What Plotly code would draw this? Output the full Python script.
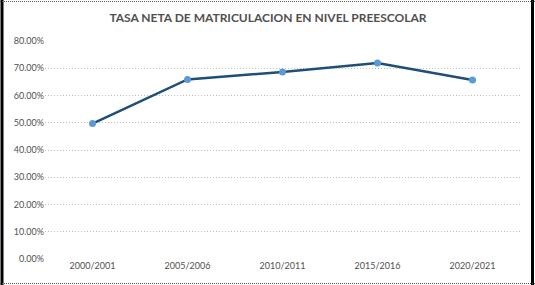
import plotly.graph_objects as go

periods = ["2000/2001", "2005/2006", "2010/2011", "2015/2016", "2020/2021"]
rates = [0.497, 0.659, 0.686, 0.719, 0.657]
title_text = "TASA NETA DE MATRICULACION EN NIVEL PREESCOLAR"

fig = go.Figure()
fig.add_trace(go.Scatter(
    x=periods, y=rates, mode="lines+markers",
    line=dict(color="#1F4E79", width=2.5),
    marker=dict(color="#5B9BD5", size=7),
    hoverinfo="x+y",
))

W, H = 535, 285
L, R, T, B = 45, 15, 41, 26
pw, ph = W - L - R, H - T - B

def px(x):
    return (x - L) / pw

def py(y):
    return (H - B - y) / ph

shapes = [
    dict(type="line", xref="paper", yref="paper", x0=px(2), x1=px(2), y0=py(0), y1=py(H), line=dict(color="black", width=3)),
    dict(type="line", xref="paper", yref="paper", x0=px(532.5), x1=px(532.5), y0=py(0), y1=py(H), line=dict(color="black", width=3)),
    dict(type="line", xref="paper", yref="paper", x0=px(0), x1=px(W), y0=py(1.5), y1=py(1.5), line=dict(color="#555555", width=1, dash="1px,1px")),
    dict(type="line", xref="paper", yref="paper", x0=px(0), x1=px(W), y0=py(283.5), y1=py(283.5), line=dict(color="#555555", width=1, dash="1px,1px")),
]

fig.update_layout(
    width=W, height=H,
    margin=dict(l=L, r=R, t=T, b=B, autoexpand=False),
    paper_bgcolor="white", plot_bgcolor="white",
    showlegend=False,
    title=dict(text="<b>" + title_text + "</b>", x=(268 - L) / pw, xref="paper", xanchor="center",
               y=1 - 18 / H, yanchor="middle", automargin=False,
               font=dict(family="Lato", size=12, color="#505050")),
    font=dict(family="Lato", size=9, color="#505050"),
    xaxis=dict(range=[-0.5, 4.5], showgrid=False, showline=False, ticks="", automargin=False,
               tickfont=dict(size=9, color="#505050")),
    yaxis=dict(range=[0, 0.8], dtick=0.1, tickformat=".2%", showgrid=True, automargin=False,
               gridcolor="#C0C0C0", griddash="1px,2px", gridwidth=1, zeroline=False,
               showline=False, ticks="", tickfont=dict(size=9, color="#505050")),
    shapes=shapes,
)

fig.write_html("out.html", config={"displayModeBar": False},
               post_script="document.body.style.margin='0';document.body.style.overflow='hidden';")
